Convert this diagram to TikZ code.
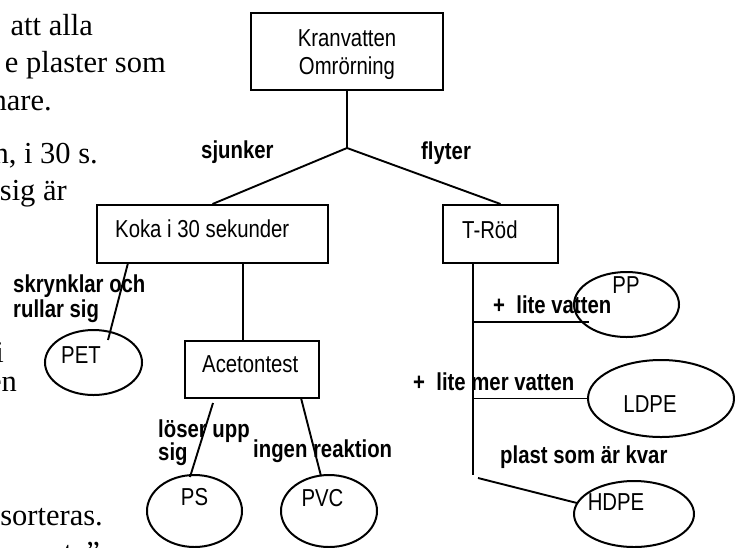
\documentclass[tikz,border=0pt]{standalone}
\usepackage{fontspec}
\setmainfont{Liberation Serif}
\newfontfamily\chartfont[FakeStretch=0.83]{Liberation Sans}
\usetikzlibrary{shapes.geometric}

\tikzset{
  box/.style={draw, line width=2pt, inner sep=0pt},
  plastic/.style={ellipse, draw, line width=2pt, inner sep=0pt},
  txt/.style={font={\chartfont\fontsize{24.5}{28}\selectfont}, inner sep=0pt},
  cond/.style={font={\chartfont\bfseries\fontsize{24.5}{28}\selectfont}, inner sep=0pt, anchor=base west},
  prose/.style={font={\fontsize{30.5}{37}\selectfont}, inner sep=0pt, anchor=base east},
  link/.style={line width=1.9pt}
}

\begin{document}
\begin{tikzpicture}[x=1pt, y=-1pt]
    \useasboundingbox (0,0) rectangle (735,547);
    \clip (0,0) rectangle (735,547);

    % page text, cut off at the left edge
    \node[prose] (p1) at (93,35) {att alla};
    \node[prose] (p2) at (166,72) {e plaster som};
    \node[prose] (p3) at (52,110) {hare.};
    \node[prose] (p4) at (98,163) {n, i 30 s.};
    \node[prose] (p5) at (67,200) {sig är};
    \node[prose] (p6) at (4,362) {i};
    \node[prose] (p7) at (17,391) {en};
    \node[prose] (p8) at (103,525) {sorteras.};
    \node[prose] (p9) at (100,562) {t\hspace{14pt}”};

    % boxes
    \node[box, minimum width=192, minimum height=77] (kran) at (347,51.5) {};
    \node[box, minimum width=231, minimum height=58] (koka) at (212.5,234) {};
    \node[box, minimum width=115, minimum height=58] (trod) at (500.5,234) {};
    \node[box, minimum width=134, minimum height=57] (aceton) at (252,369.5) {};

    \node[txt, anchor=base] (kranA) at (347,46) {Kranvatten};
    \node[txt, anchor=base] (kranB) at (347,74) {Omrörning};
    \node[txt, anchor=base west] (kokaT) at (115,237) {Koka i 30 sekunder};
    \node[txt, anchor=base west] (trodT) at (462,238) {T-Röd};
    \node[txt, anchor=base west] (acetonT) at (202,372) {Acetontest};

    % plastics
    \node[plastic, minimum width=97, minimum height=65] (pet) at (93.5,362.5) {};
    \node[plastic, minimum width=95, minimum height=72] (ps) at (194.5,511) {};
    \node[plastic, minimum width=96, minimum height=72] (pvc) at (329,511) {};
    \node[plastic, minimum width=105, minimum height=65] (pp) at (626.5,304.5) {};
    \node[plastic, minimum width=146, minimum height=77] (ldpe) at (661,398.5) {};
    \node[plastic, minimum width=120, minimum height=66] (hdpe) at (634,514) {};

    \node[txt, anchor=base] (petT) at (81,363) {PET};
    \node[txt, anchor=base] (psT) at (194.5,505) {PS};
    \node[txt, anchor=base] (pvcT) at (322.5,506) {PVC};
    \node[txt, anchor=base] (ppT) at (626,293) {PP};
    \node[txt, anchor=base] (ldpeT) at (650,412) {LDPE};
    \node[txt, anchor=base] (hdpeT) at (616,510) {HDPE};

    % connectors
    \coordinate (split) at (347,148);
    \draw[link] (kran.south) -- (split) -- (koka.north);
    \draw[link] (split) -- (trod.north);

    \coordinate (kokaD) at (243,263);
    \draw[link] (kokaD) -- (kokaD |- aceton.north);
    \coordinate (kokaP) at (128,263);
    \coordinate (petIn) at (108,340);
    \draw[link] (kokaP) -- (petIn);

    \coordinate (acetonS) at (213,403);
    \coordinate (psIn) at (190,477);
    \draw[link] (acetonS) -- (psIn);
    \coordinate (acetonV) at (301,398);
    \coordinate (pvcIn) at (321,476);
    \draw[link] (acetonV) -- (pvcIn);

    \coordinate (trodD) at (473,263);
    \coordinate (trodE) at (473,475);
    \draw[link] (trodD) -- (trodE);
    \coordinate (ppIn) at (589,322);
    \draw[link] (trodD |- ppIn) -- (ppIn);
    \draw[link] (trodD |- ldpe.west) -- (ldpe.west);
    \coordinate (hdpeA) at (478,478);
    \coordinate (hdpeIn) at (577,503);
    \draw[link] (hdpeA) -- (hdpeIn);

    % conditions
    \node[cond] (sjunker) at (201,158) {sjunker};
    \node[cond] (flyter) at (421,159) {flyter};
    \node[cond] (skrA) at (13,292) {skrynklar och};
    \node[cond] (skrB) at (13,317) {rullar sig};
    \node[cond] (losA) at (158,437) {löser upp};
    \node[cond] (losB) at (158,460) {sig};
    \node[cond] (ingen) at (253,457) {ingen reaktion};
    \node[cond] (lite) at (493,313) {+\ \ lite vatten};
    \node[cond] (mer) at (413,390) {+\ \ lite mer vatten};
    \node[cond] (kvar) at (500,463) {plast som är kvar};
\end{tikzpicture}
\end{document}
